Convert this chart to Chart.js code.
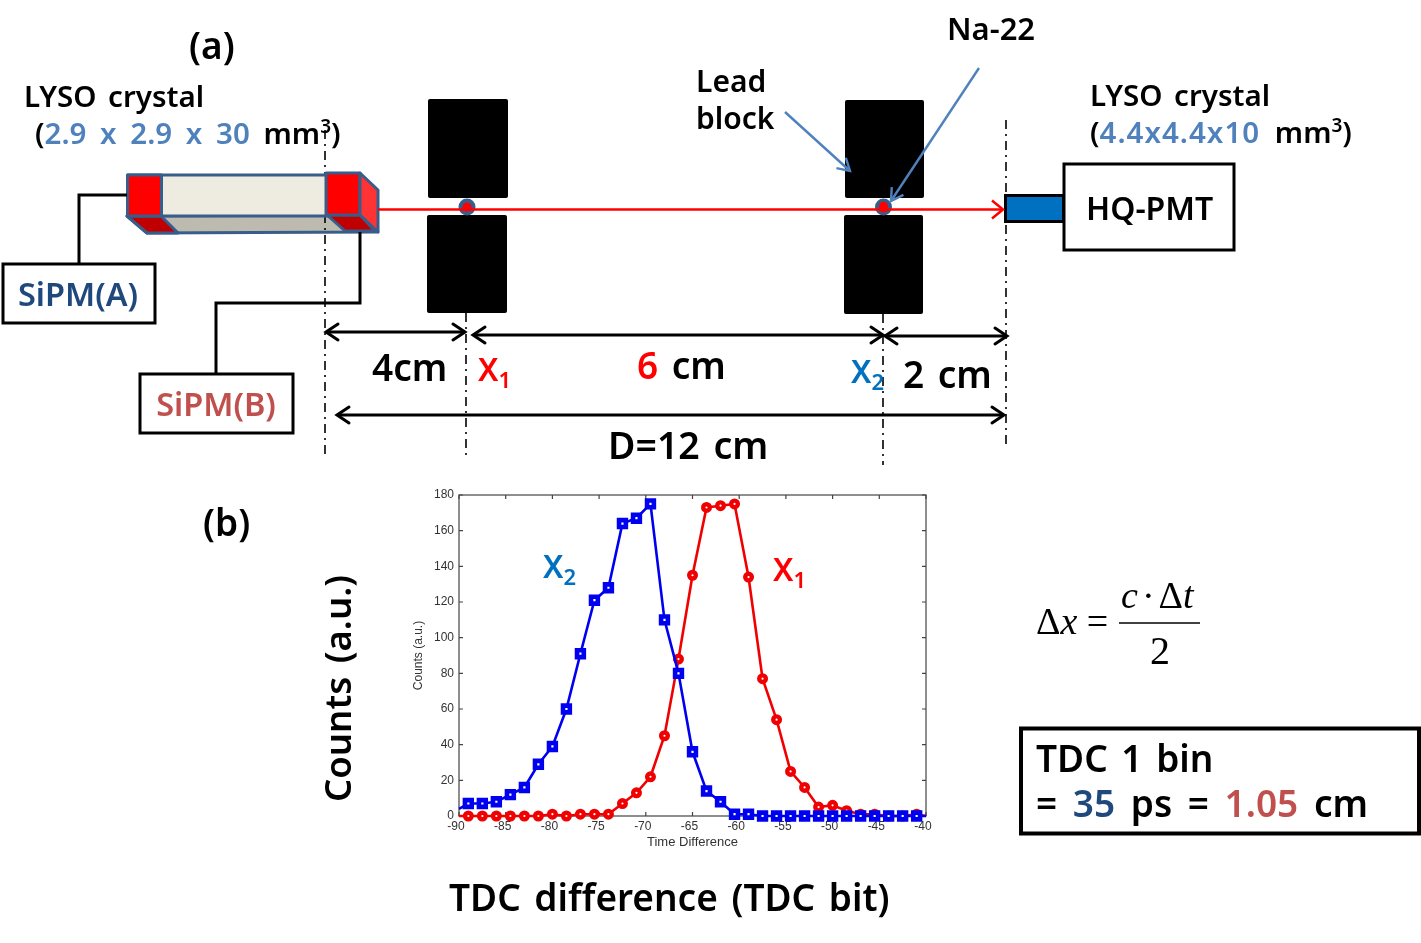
<!DOCTYPE html>
<html>
<head>
<meta charset="utf-8">
<title>TDC difference</title>
<script src="https://cdn.jsdelivr.net/npm/chart.js@4"></script>
<style>
  html, body { margin: 0; padding: 0; background: #fff; }
  #page { position: relative; width: 1421px; height: 943px; overflow: hidden; }
  #chartBox { position: absolute; left: 400px; top: 480px; width: 540px; height: 370px; }
  #art { position: absolute; left: 0; top: 0; }
  #art text { font-family: "Noto Sans", sans-serif; font-weight: 600; fill: #000; word-spacing: 4px; }
  #art .math { font-family: "Liberation Serif", serif; font-weight: 400; word-spacing: 0; }
</style>
</head>
<body>
<div id="page">
  <div id="chartBox"><canvas id="tdcChart" width="540" height="370"></canvas></div>

  <svg id="art" width="1421" height="943" viewBox="0 0 1421 943">
    <defs>
      <marker id="headBlack" markerUnits="userSpaceOnUse" markerWidth="36" markerHeight="36" refX="18" refY="18" orient="auto-start-reverse">
        <path d="M6 10 L18 18 L6 26" fill="none" stroke="#000" stroke-width="3" stroke-linecap="round"/>
      </marker>
      <marker id="headRed" markerUnits="userSpaceOnUse" markerWidth="36" markerHeight="36" refX="18" refY="18" orient="auto">
        <path d="M7 9 L18 18 L7 27" fill="none" stroke="#f00" stroke-width="2.5"/>
      </marker>
      <marker id="headBlue" markerUnits="userSpaceOnUse" markerWidth="30" markerHeight="30" refX="16" refY="15" orient="auto">
        <path d="M4 8 L16 15 L4 22" fill="none" stroke="#4f81bd" stroke-width="2.4"/>
      </marker>
    </defs>

    <!-- lead blocks -->
    <rect x="428" y="99" width="80" height="99" rx="2"/>
    <rect x="427" y="215" width="80" height="98" rx="2"/>
    <rect x="845" y="100" width="79" height="98" rx="2"/>
    <rect x="844" y="215" width="79" height="99" rx="2"/>

    <!-- crystal, bottom side first so the reference line runs over it -->
    <g stroke="#385d8a" stroke-width="3" stroke-linejoin="round">
      <polygon points="127,216 147,233 378,232 360,215" fill="#bdbbb0"/>
      <polygon points="127,216 147,233 178,233 161,216" fill="#c00000"/>
      <polygon points="327,215 345,231 375,231 360,215" fill="#c00000"/>
    </g>

    <!-- reference lines -->
    <g stroke="#000" stroke-width="1.6" stroke-dasharray="9 5 2 5" fill="none">
      <path d="M325 130 V456"/>
      <path d="M466 313 V458"/>
      <path d="M883 314 V465"/>
      <path d="M1006 120 V445"/>
    </g>

    <g stroke="#385d8a" stroke-width="3" stroke-linejoin="round">
      <rect x="127.5" y="175" width="200" height="41" fill="#eeece1"/>
      <rect x="127.5" y="175" width="34" height="41" fill="#f00"/>
      <rect x="326" y="173" width="34" height="42" fill="#f00"/>
      <polygon points="360,173 378,190 378,232 360,215" fill="#ff3333"/>
    </g>

    <!-- wires and boxes -->
    <g fill="none" stroke="#000" stroke-width="3">
      <path d="M127 195 H79 V263"/>
      <path d="M360 232 V303 H216 V373"/>
      <rect x="3" y="264" width="152" height="59" fill="#fff"/>
      <rect x="140" y="374" width="153" height="59" fill="#fff"/>
      <rect x="1064" y="164" width="170" height="86" fill="#fff"/>
      <rect x="1005.5" y="195.5" width="58" height="26" fill="#0070c0"/>
    </g>
    <rect x="1021" y="728.5" width="398" height="105" fill="none" stroke="#000" stroke-width="4"/>

    <!-- gamma line and sources -->
    <circle cx="467" cy="207" r="8.5" fill="#385d8a"/>
    <circle cx="467" cy="207" r="4.5" fill="#f00"/>
    <ellipse cx="883.5" cy="207" rx="8.5" ry="8.5" fill="#385d8a"/>
    <ellipse cx="883.5" cy="207" rx="4.5" ry="5.5" fill="#f00"/>
    <line x1="378" y1="209.5" x2="1003" y2="209.5" stroke="#f00" stroke-width="2.5" marker-end="url(#headRed)"/>

    <!-- dimension arrows -->
    <g stroke="#000" stroke-width="3" fill="none">
      <line x1="326" y1="332" x2="465" y2="332" marker-start="url(#headBlack)" marker-end="url(#headBlack)"/>
      <line x1="473" y1="335" x2="883" y2="335" marker-start="url(#headBlack)" marker-end="url(#headBlack)"/>
      <line x1="885" y1="336" x2="1007" y2="336" marker-start="url(#headBlack)" marker-end="url(#headBlack)"/>
      <line x1="337" y1="415" x2="1004" y2="415" marker-start="url(#headBlack)" marker-end="url(#headBlack)"/>
    </g>

    <!-- pointers -->
    <line x1="785" y1="112" x2="850" y2="171" stroke="#4f81bd" stroke-width="2.4" marker-end="url(#headBlue)"/>
    <line x1="979" y1="68" x2="891" y2="201" stroke="#4f81bd" stroke-width="2.4" marker-end="url(#headBlue)"/>

    <!-- labels -->
    <text x="189" y="59" font-size="37">(a)</text>
    <text x="203" y="536" font-size="37">(b)</text>
    <text x="24" y="107" font-size="29.5">LYSO crystal</text>
    <text x="35" y="144" font-size="29.5" xml:space="preserve" style="word-spacing:6px">(<tspan style="fill:#4f81bd">2.9 x 2.9 x 30</tspan> mm<tspan font-size="19" dy="-11">3</tspan><tspan dy="11">)</tspan></text>
    <text x="1090" y="106" font-size="29.5">LYSO crystal</text>
    <text x="1090" y="143" font-size="29.5" xml:space="preserve" style="word-spacing:7px">(<tspan style="fill:#4f81bd;letter-spacing:1px">4.4x4.4x10</tspan> mm<tspan font-size="19" dy="-11">3</tspan><tspan dy="11">)</tspan></text>
    <text x="947" y="40" font-size="31">Na-22</text>
    <text x="696" y="92" font-size="30">Lead</text>
    <text x="696" y="129" font-size="30">block</text>
    <text x="1086" y="220" font-size="32">HQ-PMT</text>
    <text x="78" y="306" font-size="32.5" text-anchor="middle" style="fill:#1f497d">SiPM(A)</text>
    <text x="216" y="416" font-size="32.5" text-anchor="middle" style="fill:#c0504d">SiPM(B)</text>
    <text x="372" y="381" font-size="37">4cm</text>
    <text x="478" y="381" font-size="32" style="fill:#f00">X<tspan font-size="22" dy="7">1</tspan></text>
    <text x="637" y="379" font-size="37" xml:space="preserve"><tspan style="fill:#f00">6</tspan> cm</text>
    <text x="851" y="383" font-size="32" style="fill:#0070c0">X<tspan font-size="22" dy="7">2</tspan></text>
    <text x="903" y="388" font-size="37" xml:space="preserve">2 cm</text>
    <text x="608" y="459" font-size="37.5" xml:space="preserve">D=12 cm</text>
    <text x="543" y="578" font-size="32" style="fill:#0070c0">X<tspan font-size="22" dy="7">2</tspan></text>
    <text x="773" y="581" font-size="32" style="fill:#f00">X<tspan font-size="22" dy="7">1</tspan></text>
    <text transform="translate(351,802) rotate(-90)" font-size="36.5">Counts (a.u.)</text>
    <text x="449" y="911" font-size="37">TDC difference (TDC bit)</text>
    <text x="1036" y="772" font-size="37">TDC 1 bin</text>
    <text x="1036" y="817" font-size="37" xml:space="preserve" style="word-spacing:6px">= <tspan style="fill:#1f497d">35</tspan> ps = <tspan style="fill:#c0504d">1.05</tspan> cm</text>

    <!-- formula -->
    <text class="math" x="1036" y="634" font-size="38">&#916;<tspan font-style="italic">x</tspan> =</text>
    <text class="math" x="1121" y="608" font-size="38"><tspan font-style="italic">c</tspan><tspan dx="4">&#183;</tspan><tspan dx="4">&#916;</tspan><tspan font-style="italic">t</tspan></text>
    <text class="math" x="1150" y="664" font-size="40">2</text>
    <line x1="1119" y1="623" x2="1200" y2="623" stroke="#000" stroke-width="1.5"/>
  </svg>
</div>

<script>
// values, the two end entries only carry the line to the axis box
const timeDifference = [-90, -89, -87.5, -86, -84.5, -83, -81.5, -80, -78.5, -77, -75.5, -74, -72.5, -71, -69.5, -68, -66.5, -65,
  -63.5, -62, -60.5, -59, -57.5, -56, -54.5, -53, -51.5, -50, -48.5, -47, -45.5, -44, -42.5, -41, -40];
const x2Counts = [4, 7, 7, 8, 12, 16, 29, 39, 60, 91, 121, 128, 164, 167, 175, 110, 80, 36,
  14, 8, 1, 1, 0, 0, 0, 0, 0, 0, 0, 0, 0, 0, 0, 0, 0];
const x1Counts = [0, 0, 0, 0, 0, 0, 0, 1, 0, 1, 1, 1, 7, 13, 22, 45, 88, 135,
  173, 174, 175, 134, 77, 54, 25, 16, 5, 6, 3, 1, 1, 0, 0, 1, 0];
const xTicks = [-90, -85, -80, -75, -70, -65, -60, -55, -50, -45, -40];
const yTicks = [0, 20, 40, 60, 80, 100, 120, 140, 160, 180];

const toPoints = (xs, ys) => xs.map((x, i) => ({ x: x, y: ys[i] }));
// no marker on the two end entries
const markerSize = size => ctx => (ctx.dataIndex === 0 || ctx.dataIndex === timeDifference.length - 1) ? 0 : size;

// matlab style box with ticks pointing inward
const boxTicks = {
  id: 'boxTicks',
  beforeDatasetsDraw(chart) {
    const { ctx, chartArea: a, scales } = chart;
    ctx.save();
    ctx.strokeStyle = '#444';
    ctx.lineWidth = 1.2;
    ctx.strokeRect(a.left, a.top, a.right - a.left, a.bottom - a.top);
    ctx.beginPath();
    xTicks.forEach(v => {
      const px = scales.x.getPixelForValue(v);
      ctx.moveTo(px, a.bottom); ctx.lineTo(px, a.bottom - 4);
      ctx.moveTo(px, a.top); ctx.lineTo(px, a.top + 4);
    });
    yTicks.forEach(v => {
      const py = scales.y.getPixelForValue(v);
      ctx.moveTo(a.left, py); ctx.lineTo(a.left + 4, py);
      ctx.moveTo(a.right, py); ctx.lineTo(a.right - 4, py);
    });
    ctx.stroke();
    ctx.restore();
  }
};

const tickFont = { family: '"Liberation Sans", Arial, sans-serif', size: 12 };

new Chart(document.getElementById('tdcChart'), {
  type: 'line',
  data: {
    datasets: [
      {
        label: 'X2',
        data: toPoints(timeDifference, x2Counts),
        borderColor: '#0000f0',
        borderWidth: 2.6,
        backgroundColor: '#fff',
        pointStyle: 'rect',
        pointRadius: markerSize(4.8),
        pointBorderWidth: markerSize(4.6),
        pointBorderColor: '#0000f0',
        clip: false,
        tension: 0
      },
      {
        label: 'X1',
        data: toPoints(timeDifference, x1Counts),
        borderColor: '#f00000',
        borderWidth: 2.6,
        backgroundColor: '#fff',
        pointStyle: 'circle',
        pointRadius: markerSize(3.3),
        pointBorderWidth: markerSize(4.4),
        pointBorderColor: '#f00000',
        clip: false,
        tension: 0
      }
    ]
  },
  options: {
    responsive: false,
    animation: false,
    layout: { padding: { left: 0, top: 15, right: 14, bottom: 0 } },
    plugins: { legend: { display: false }, tooltip: { enabled: false } },
    scales: {
      x: {
        type: 'linear',
        min: -90,
        max: -40,
        afterBuildTicks: axis => { axis.ticks = xTicks.map(v => ({ value: v })); },
        afterFit: axis => { axis.height = 34; },
        grid: { display: false, drawTicks: false },
        border: { display: false },
        ticks: { font: tickFont, color: '#333', padding: 3, labelOffset: -3, maxRotation: 0, autoSkip: false },
        title: { display: true, text: 'Time Difference', font: { family: tickFont.family, size: 13 }, color: '#333', padding: 0 }
      },
      y: {
        min: 0,
        max: 180,
        afterBuildTicks: axis => { axis.ticks = yTicks.map(v => ({ value: v })); },
        afterFit: axis => { axis.width = 59; },
        grid: { display: false, drawTicks: false },
        border: { display: false },
        ticks: { font: tickFont, color: '#333', padding: 5, autoSkip: false },
        title: { display: true, text: 'Counts (a.u.)', font: tickFont, color: '#333', padding: { top: 11, bottom: 0 } }
      }
    }
  },
  plugins: [boxTicks]
});
</script>
</body>
</html>
